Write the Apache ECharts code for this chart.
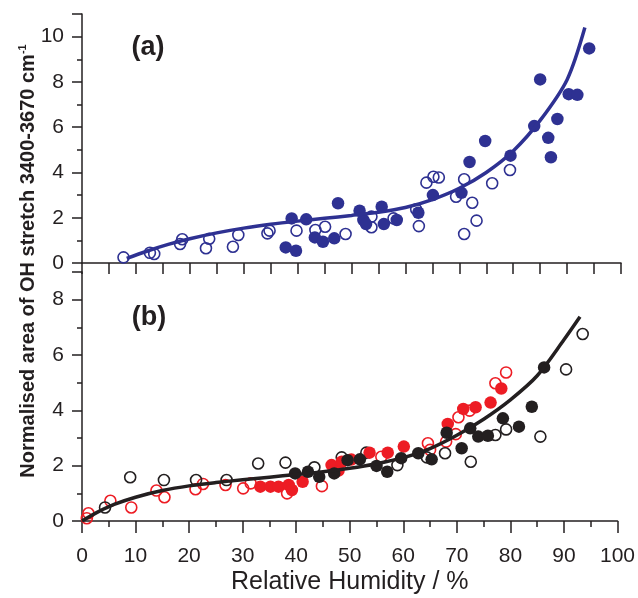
<!DOCTYPE html>
<html>
<head>
<meta charset="utf-8">
<script src="https://cdn.jsdelivr.net/npm/echarts@6/dist/echarts.min.js"></script>
<style>html,body{margin:0;padding:0;background:#fff}#c{width:638px;height:598px}</style>
</head>
<body>
<div id="c"></div>
<script>
// ---- Panel (a): blue ----
var aOpenX = [7.7,12.6,13.4,18.2,18.6,23.0,23.6,28.0,29.0,34.4,34.8,39.8,43.3,45.1,48.9,53.7,53.7,57.8,62.0,62.5,63.9,65.2,66.2,69.4,70.9,70.9,72.4,73.2,76.1,79.4];
var aOpenY = [0.25,0.45,0.40,0.84,1.05,0.65,1.07,0.72,1.24,1.31,1.43,1.43,1.46,1.60,1.28,2.05,1.58,1.97,2.37,1.63,3.55,3.81,3.78,2.93,3.70,1.28,2.66,1.87,3.52,4.11];
var aFillX = [37.8,39.7,38.9,41.6,43.2,44.7,46.8,47.5,51.5,52.2,52.7,55.6,56.0,58.4,62.4,65.1,70.4,71.9,74.8,79.5,83.9,85.0,86.5,87.0,88.2,90.3,91.9,94.1];
var aFillY = [0.69,0.54,1.97,1.93,1.13,0.94,1.09,2.64,2.31,1.90,1.72,2.49,1.72,1.90,2.22,3.00,3.10,4.46,5.39,4.74,6.05,8.11,5.53,4.67,6.36,7.46,7.43,9.48];
var aFitX = [8.3,12,16,20,25,30,35,40,45,50,55,60,65,70,75,80,85,90,93.3];
var aFitY = [0.20,0.52,0.82,1.07,1.33,1.54,1.71,1.85,1.975,2.10,2.24,2.45,2.80,3.30,4.00,4.95,6.30,8.10,10.40];

// ---- Panel (b): black & red ----
var bBlackOpenX = [4.3,9.0,15.3,21.3,27.0,32.9,38.0,43.4,48.5,53.1,58.9,64.4,67.8,72.6,77.2,79.2,85.6,90.4,93.5];
var bBlackOpenY = [0.49,1.58,1.48,1.48,1.48,2.08,2.11,1.94,2.30,2.47,2.02,2.30,2.45,2.14,3.11,3.31,3.05,5.48,6.76];
var bBlackFillX = [39.8,42.2,44.3,47.1,49.6,51.9,55.0,57.0,59.6,62.8,65.3,68.1,70.9,72.5,74.0,75.8,78.6,81.6,84.0,86.3];
var bBlackFillY = [1.72,1.78,1.60,1.72,2.20,2.23,1.99,1.78,2.27,2.45,2.23,3.19,2.63,3.35,3.05,3.08,3.71,3.41,4.13,5.55];
var bRedOpenX = [0.9,1.2,5.3,9.2,13.9,15.4,21.2,22.6,26.8,30.1,31.5,38.3,44.8,55.9,64.6,65.0,68.0,69.8,70.3,72.4,77.2,79.2];
var bRedOpenY = [0.10,0.28,0.73,0.49,1.10,0.86,1.15,1.34,1.30,1.18,1.36,1.00,1.26,2.32,2.81,2.57,2.87,3.14,3.75,3.99,4.98,5.37];
var bRedFillX = [33.3,35.2,36.7,38.6,39.2,41.2,46.6,47.9,48.5,50.3,53.7,57.1,60.1,68.3,71.2,73.5,76.3,78.3];
var bRedFillY = [1.24,1.24,1.24,1.30,1.12,1.42,2.02,1.82,2.14,2.22,2.47,2.47,2.69,3.51,4.05,4.11,4.28,4.79];
var bFitX = [0,3,6,10,15,20,25,30,35,40,45,50,55,60,65,70,75,80,85,90,93];
var bFitY = [0,0.33,0.60,0.86,1.10,1.27,1.39,1.49,1.585,1.68,1.78,1.905,2.07,2.29,2.62,3.10,3.68,4.38,5.25,6.55,7.38];

var xTicks = [0,10,20,30,40,50,60,70,80,90,100];

function zip(xs, ys){ return xs.map(function(x,i){ return [x, ys[i]]; }); }

var BLUE = '#2e3192', RED = '#ed1c24', BLACK = '#231f20';
var FONT = "'Liberation Sans',Arial,sans-serif";

function scat(name, xi, xs, ys, color, filled){
  return {
    name: name, type: 'scatter', xAxisIndex: xi, yAxisIndex: xi,
    data: zip(xs, ys), symbol: 'circle', symbolSize: filled ? 12.5 : 11,
    itemStyle: filled ? {color: color, opacity: 1} : {color: 'rgba(255,255,255,0)', borderColor: color, borderWidth: 1.6, opacity: 1},
    z: 2
  };
}
function fit(name, xi, xs, ys, color){
  return {
    name: name, type: 'line', xAxisIndex: xi, yAxisIndex: xi,
    data: zip(xs, ys), smooth: 0.3, showSymbol: false, symbol: 'none',
    lineStyle: {color: color, width: 3.5}, z: 3
  };
}

var axisLine = {show: true, onZero: false, lineStyle: {color: BLACK, width: 1.5}};

var option = {
  animation: false,
  backgroundColor: '#fff',
  grid: [
    {left: 82, top: 14, width: 539, height: 249},
    {left: 82, top: 272, width: 539, height: 249}
  ],
  xAxis: [
    {gridIndex: 0, type: 'value', min: 0, max: 100, interval: 5,
     axisLine: axisLine, axisTick: {show: true, inside: false, length: 11, lineStyle: {color: BLACK, width: 1.5}},
     axisLabel: {show: false}, splitLine: {show: false}},
    {gridIndex: 1, type: 'value', min: 0, max: 100, interval: 10,
     axisLine: axisLine, axisTick: {show: true, length: 12, lineStyle: {color: BLACK, width: 1.5}},
     minorTick: {show: true, splitNumber: 2, length: 6, lineStyle: {color: BLACK, width: 1.5}},
     axisLabel: {show: true, margin: 25, fontSize: 21, fontFamily: FONT, color: BLACK,
       formatter: function(v){ return xTicks.indexOf(v) >= 0 ? String(v) : ''; }},
     splitLine: {show: false},
     name: 'Relative Humidity / %', nameLocation: 'middle', nameGap: 49,
     nameTextStyle: {fontSize: 25, fontFamily: FONT, color: BLACK}}
  ],
  yAxis: [
    {gridIndex: 0, type: 'value', min: 0, max: 11, interval: 2,
     axisLine: axisLine, axisTick: {show: true, length: 10, lineStyle: {color: BLACK, width: 1.5}},
     minorTick: {show: true, splitNumber: 2, length: 5, lineStyle: {color: BLACK, width: 1.5}},
     axisLabel: {margin: 18, fontSize: 21, fontFamily: FONT, color: BLACK, showMaxLabel: false},
     splitLine: {show: false}, minorSplitLine: {show: false}},
    {gridIndex: 1, type: 'value', min: 0, max: 9, interval: 2,
     axisLine: axisLine, axisTick: {show: true, length: 10, lineStyle: {color: BLACK, width: 1.5}},
     minorTick: {show: true, splitNumber: 2, length: 5, lineStyle: {color: BLACK, width: 1.5}},
     axisLabel: {margin: 18, fontSize: 21, fontFamily: FONT, color: BLACK, showMaxLabel: false},
     splitLine: {show: false}, minorSplitLine: {show: false}}
  ],
  graphic: [
    {type: 'text', x: 148, y: 48, style: {text: '(a)', font: 'bold 27px ' + FONT, fill: BLACK, align: 'center', verticalAlign: 'middle'}},
    {type: 'text', x: 149, y: 318, style: {text: '(b)', font: 'bold 27px ' + FONT, fill: BLACK, align: 'center', verticalAlign: 'middle'}},
    {type: 'text', x: 28, y: 261, rotation: Math.PI / 2,
     style: {text: '{m|Normalised area of OH stretch 3400-3670 cm}{s|-1}', align: 'center', verticalAlign: 'middle',
       rich: {m: {fontSize: 20, fontWeight: 'bold', fontFamily: FONT, fill: BLACK, lineHeight: 22},
              s: {fontSize: 11, fontWeight: 'bold', fontFamily: FONT, fill: BLACK, verticalAlign: 'top', lineHeight: 22, padding: [0, 0, 10, 0]}}}}
  ],
  series: [
    scat('a open', 0, aOpenX, aOpenY, BLUE, false),
    scat('a filled', 0, aFillX, aFillY, BLUE, true),
    fit('a fit', 0, aFitX, aFitY, BLUE),
    scat('b red open', 1, bRedOpenX, bRedOpenY, RED, false),
    scat('b black open', 1, bBlackOpenX, bBlackOpenY, BLACK, false),
    scat('b red filled', 1, bRedFillX, bRedFillY, RED, true),
    scat('b black filled', 1, bBlackFillX, bBlackFillY, BLACK, true),
    fit('b fit', 1, bFitX, bFitY, BLACK)
  ]
};
var chart = echarts.init(document.getElementById('c'), null, {renderer: 'canvas'});
chart.setOption(option);
</script>
</body>
</html>
